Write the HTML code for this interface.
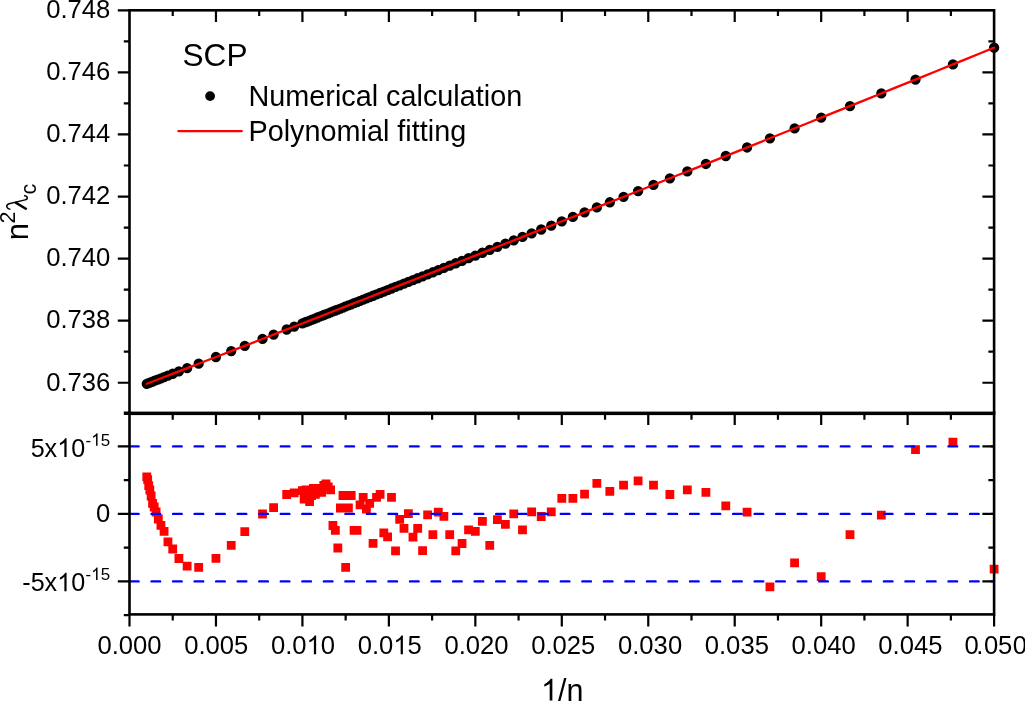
<!DOCTYPE html><html><head><meta charset="utf-8"><title>SCP</title>
<style>html,body{margin:0;padding:0;background:#fff;overflow:hidden}svg{display:block;will-change:transform}text{font-family:"Liberation Sans",sans-serif;fill:#000}</style>
</head><body>
<svg width="1025" height="701" viewBox="0 0 1025 701">
<rect width="1025" height="701" fill="#fff"/>
<path fill="#000" d="M141.64,383.78a5.15,5.15 0 1,0 10.3,0a5.15,5.15 0 1,0 -10.3,0zM142.55,383.42a5.15,5.15 0 1,0 10.3,0a5.15,5.15 0 1,0 -10.3,0zM143.56,383.03a5.15,5.15 0 1,0 10.3,0a5.15,5.15 0 1,0 -10.3,0zM144.69,382.60a5.15,5.15 0 1,0 10.3,0a5.15,5.15 0 1,0 -10.3,0zM145.97,382.11a5.15,5.15 0 1,0 10.3,0a5.15,5.15 0 1,0 -10.3,0zM147.41,381.55a5.15,5.15 0 1,0 10.3,0a5.15,5.15 0 1,0 -10.3,0zM149.05,380.91a5.15,5.15 0 1,0 10.3,0a5.15,5.15 0 1,0 -10.3,0zM150.95,380.18a5.15,5.15 0 1,0 10.3,0a5.15,5.15 0 1,0 -10.3,0zM153.17,379.32a5.15,5.15 0 1,0 10.3,0a5.15,5.15 0 1,0 -10.3,0zM155.79,378.31a5.15,5.15 0 1,0 10.3,0a5.15,5.15 0 1,0 -10.3,0zM158.93,377.09a5.15,5.15 0 1,0 10.3,0a5.15,5.15 0 1,0 -10.3,0zM162.78,375.61a5.15,5.15 0 1,0 10.3,0a5.15,5.15 0 1,0 -10.3,0zM167.58,373.75a5.15,5.15 0 1,0 10.3,0a5.15,5.15 0 1,0 -10.3,0zM173.76,371.36a5.15,5.15 0 1,0 10.3,0a5.15,5.15 0 1,0 -10.3,0zM181.99,368.17a5.15,5.15 0 1,0 10.3,0a5.15,5.15 0 1,0 -10.3,0zM193.52,363.71a5.15,5.15 0 1,0 10.3,0a5.15,5.15 0 1,0 -10.3,0zM210.81,357.00a5.15,5.15 0 1,0 10.3,0a5.15,5.15 0 1,0 -10.3,0zM226.07,351.08a5.15,5.15 0 1,0 10.3,0a5.15,5.15 0 1,0 -10.3,0zM239.63,345.81a5.15,5.15 0 1,0 10.3,0a5.15,5.15 0 1,0 -10.3,0zM257.37,338.91a5.15,5.15 0 1,0 10.3,0a5.15,5.15 0 1,0 -10.3,0zM268.45,334.60a5.15,5.15 0 1,0 10.3,0a5.15,5.15 0 1,0 -10.3,0zM281.55,329.50a5.15,5.15 0 1,0 10.3,0a5.15,5.15 0 1,0 -10.3,0zM289.04,326.58a5.15,5.15 0 1,0 10.3,0a5.15,5.15 0 1,0 -10.3,0zM297.27,323.37a5.15,5.15 0 1,0 10.3,0a5.15,5.15 0 1,0 -10.3,0zM299.02,322.69a5.15,5.15 0 1,0 10.3,0a5.15,5.15 0 1,0 -10.3,0zM300.80,321.99a5.15,5.15 0 1,0 10.3,0a5.15,5.15 0 1,0 -10.3,0zM302.62,321.28a5.15,5.15 0 1,0 10.3,0a5.15,5.15 0 1,0 -10.3,0zM304.48,320.56a5.15,5.15 0 1,0 10.3,0a5.15,5.15 0 1,0 -10.3,0zM306.37,319.82a5.15,5.15 0 1,0 10.3,0a5.15,5.15 0 1,0 -10.3,0zM308.31,319.06a5.15,5.15 0 1,0 10.3,0a5.15,5.15 0 1,0 -10.3,0zM310.29,318.29a5.15,5.15 0 1,0 10.3,0a5.15,5.15 0 1,0 -10.3,0zM312.31,317.50a5.15,5.15 0 1,0 10.3,0a5.15,5.15 0 1,0 -10.3,0zM314.37,316.69a5.15,5.15 0 1,0 10.3,0a5.15,5.15 0 1,0 -10.3,0zM316.48,315.87a5.15,5.15 0 1,0 10.3,0a5.15,5.15 0 1,0 -10.3,0zM318.64,315.03a5.15,5.15 0 1,0 10.3,0a5.15,5.15 0 1,0 -10.3,0zM320.85,314.16a5.15,5.15 0 1,0 10.3,0a5.15,5.15 0 1,0 -10.3,0zM323.11,313.28a5.15,5.15 0 1,0 10.3,0a5.15,5.15 0 1,0 -10.3,0zM325.42,312.38a5.15,5.15 0 1,0 10.3,0a5.15,5.15 0 1,0 -10.3,0zM327.79,311.45a5.15,5.15 0 1,0 10.3,0a5.15,5.15 0 1,0 -10.3,0zM330.21,310.51a5.15,5.15 0 1,0 10.3,0a5.15,5.15 0 1,0 -10.3,0zM332.69,309.54a5.15,5.15 0 1,0 10.3,0a5.15,5.15 0 1,0 -10.3,0zM335.23,308.54a5.15,5.15 0 1,0 10.3,0a5.15,5.15 0 1,0 -10.3,0zM337.83,307.53a5.15,5.15 0 1,0 10.3,0a5.15,5.15 0 1,0 -10.3,0zM340.50,306.48a5.15,5.15 0 1,0 10.3,0a5.15,5.15 0 1,0 -10.3,0zM343.24,305.41a5.15,5.15 0 1,0 10.3,0a5.15,5.15 0 1,0 -10.3,0zM346.04,304.31a5.15,5.15 0 1,0 10.3,0a5.15,5.15 0 1,0 -10.3,0zM348.92,303.19a5.15,5.15 0 1,0 10.3,0a5.15,5.15 0 1,0 -10.3,0zM351.88,302.03a5.15,5.15 0 1,0 10.3,0a5.15,5.15 0 1,0 -10.3,0zM354.91,300.84a5.15,5.15 0 1,0 10.3,0a5.15,5.15 0 1,0 -10.3,0zM358.03,299.62a5.15,5.15 0 1,0 10.3,0a5.15,5.15 0 1,0 -10.3,0zM361.23,298.37a5.15,5.15 0 1,0 10.3,0a5.15,5.15 0 1,0 -10.3,0zM364.52,297.08a5.15,5.15 0 1,0 10.3,0a5.15,5.15 0 1,0 -10.3,0zM367.90,295.76a5.15,5.15 0 1,0 10.3,0a5.15,5.15 0 1,0 -10.3,0zM371.38,294.39a5.15,5.15 0 1,0 10.3,0a5.15,5.15 0 1,0 -10.3,0zM374.96,292.99a5.15,5.15 0 1,0 10.3,0a5.15,5.15 0 1,0 -10.3,0zM378.64,291.54a5.15,5.15 0 1,0 10.3,0a5.15,5.15 0 1,0 -10.3,0zM382.44,290.06a5.15,5.15 0 1,0 10.3,0a5.15,5.15 0 1,0 -10.3,0zM386.35,288.52a5.15,5.15 0 1,0 10.3,0a5.15,5.15 0 1,0 -10.3,0zM390.38,286.94a5.15,5.15 0 1,0 10.3,0a5.15,5.15 0 1,0 -10.3,0zM394.54,285.31a5.15,5.15 0 1,0 10.3,0a5.15,5.15 0 1,0 -10.3,0zM398.83,283.63a5.15,5.15 0 1,0 10.3,0a5.15,5.15 0 1,0 -10.3,0zM403.25,281.89a5.15,5.15 0 1,0 10.3,0a5.15,5.15 0 1,0 -10.3,0zM407.83,280.09a5.15,5.15 0 1,0 10.3,0a5.15,5.15 0 1,0 -10.3,0zM412.55,278.24a5.15,5.15 0 1,0 10.3,0a5.15,5.15 0 1,0 -10.3,0zM417.43,276.32a5.15,5.15 0 1,0 10.3,0a5.15,5.15 0 1,0 -10.3,0zM422.49,274.33a5.15,5.15 0 1,0 10.3,0a5.15,5.15 0 1,0 -10.3,0zM427.72,272.27a5.15,5.15 0 1,0 10.3,0a5.15,5.15 0 1,0 -10.3,0zM433.14,270.14a5.15,5.15 0 1,0 10.3,0a5.15,5.15 0 1,0 -10.3,0zM438.75,267.93a5.15,5.15 0 1,0 10.3,0a5.15,5.15 0 1,0 -10.3,0zM444.57,265.64a5.15,5.15 0 1,0 10.3,0a5.15,5.15 0 1,0 -10.3,0zM450.61,263.26a5.15,5.15 0 1,0 10.3,0a5.15,5.15 0 1,0 -10.3,0zM456.89,260.79a5.15,5.15 0 1,0 10.3,0a5.15,5.15 0 1,0 -10.3,0zM463.41,258.22a5.15,5.15 0 1,0 10.3,0a5.15,5.15 0 1,0 -10.3,0zM470.19,255.55a5.15,5.15 0 1,0 10.3,0a5.15,5.15 0 1,0 -10.3,0zM477.25,252.76a5.15,5.15 0 1,0 10.3,0a5.15,5.15 0 1,0 -10.3,0zM484.60,249.86a5.15,5.15 0 1,0 10.3,0a5.15,5.15 0 1,0 -10.3,0zM492.26,246.83a5.15,5.15 0 1,0 10.3,0a5.15,5.15 0 1,0 -10.3,0zM500.26,243.67a5.15,5.15 0 1,0 10.3,0a5.15,5.15 0 1,0 -10.3,0zM508.62,240.37a5.15,5.15 0 1,0 10.3,0a5.15,5.15 0 1,0 -10.3,0zM517.35,236.92a5.15,5.15 0 1,0 10.3,0a5.15,5.15 0 1,0 -10.3,0zM526.49,233.30a5.15,5.15 0 1,0 10.3,0a5.15,5.15 0 1,0 -10.3,0zM536.06,229.51a5.15,5.15 0 1,0 10.3,0a5.15,5.15 0 1,0 -10.3,0zM546.11,225.54a5.15,5.15 0 1,0 10.3,0a5.15,5.15 0 1,0 -10.3,0zM556.65,221.36a5.15,5.15 0 1,0 10.3,0a5.15,5.15 0 1,0 -10.3,0zM567.73,216.96a5.15,5.15 0 1,0 10.3,0a5.15,5.15 0 1,0 -10.3,0zM579.40,212.33a5.15,5.15 0 1,0 10.3,0a5.15,5.15 0 1,0 -10.3,0zM591.70,207.44a5.15,5.15 0 1,0 10.3,0a5.15,5.15 0 1,0 -10.3,0zM604.68,202.28a5.15,5.15 0 1,0 10.3,0a5.15,5.15 0 1,0 -10.3,0zM618.41,196.82a5.15,5.15 0 1,0 10.3,0a5.15,5.15 0 1,0 -10.3,0zM632.94,191.04a5.15,5.15 0 1,0 10.3,0a5.15,5.15 0 1,0 -10.3,0zM648.35,184.89a5.15,5.15 0 1,0 10.3,0a5.15,5.15 0 1,0 -10.3,0zM664.73,178.36a5.15,5.15 0 1,0 10.3,0a5.15,5.15 0 1,0 -10.3,0zM682.16,171.40a5.15,5.15 0 1,0 10.3,0a5.15,5.15 0 1,0 -10.3,0zM700.75,163.96a5.15,5.15 0 1,0 10.3,0a5.15,5.15 0 1,0 -10.3,0zM720.63,156.01a5.15,5.15 0 1,0 10.3,0a5.15,5.15 0 1,0 -10.3,0zM741.92,147.47a5.15,5.15 0 1,0 10.3,0a5.15,5.15 0 1,0 -10.3,0zM764.79,138.29a5.15,5.15 0 1,0 10.3,0a5.15,5.15 0 1,0 -10.3,0zM789.43,128.39a5.15,5.15 0 1,0 10.3,0a5.15,5.15 0 1,0 -10.3,0zM816.03,117.68a5.15,5.15 0 1,0 10.3,0a5.15,5.15 0 1,0 -10.3,0zM844.85,106.06a5.15,5.15 0 1,0 10.3,0a5.15,5.15 0 1,0 -10.3,0zM876.18,93.40a5.15,5.15 0 1,0 10.3,0a5.15,5.15 0 1,0 -10.3,0zM910.35,79.56a5.15,5.15 0 1,0 10.3,0a5.15,5.15 0 1,0 -10.3,0zM947.78,64.38a5.15,5.15 0 1,0 10.3,0a5.15,5.15 0 1,0 -10.3,0zM988.95,47.63a5.15,5.15 0 1,0 10.3,0a5.15,5.15 0 1,0 -10.3,0z"/>
<path fill="#f00" d="M142.39,472.40h8.8v8.8h-8.8zM143.30,475.30h8.8v8.8h-8.8zM144.31,481.20h8.8v8.8h-8.8zM145.44,485.60h8.8v8.8h-8.8zM146.72,491.60h8.8v8.8h-8.8zM148.16,499.00h8.8v8.8h-8.8zM149.80,502.60h8.8v8.8h-8.8zM151.70,507.60h8.8v8.8h-8.8zM153.92,514.60h8.8v8.8h-8.8zM156.54,520.90h8.8v8.8h-8.8zM159.68,526.90h8.8v8.8h-8.8zM163.53,537.40h8.8v8.8h-8.8zM168.33,544.60h8.8v8.8h-8.8zM174.51,554.10h8.8v8.8h-8.8zM182.74,561.80h8.8v8.8h-8.8zM194.27,563.00h8.8v8.8h-8.8zM211.56,554.00h8.8v8.8h-8.8zM226.82,540.90h8.8v8.8h-8.8zM240.38,527.20h8.8v8.8h-8.8zM258.12,509.60h8.8v8.8h-8.8zM269.20,503.20h8.8v8.8h-8.8zM282.30,490.10h8.8v8.8h-8.8zM289.79,488.40h8.8v8.8h-8.8zM298.02,486.20h8.8v8.8h-8.8zM299.77,494.60h8.8v8.8h-8.8zM301.55,485.60h8.8v8.8h-8.8zM303.37,491.60h8.8v8.8h-8.8zM305.23,497.30h8.8v8.8h-8.8zM307.12,491.20h8.8v8.8h-8.8zM309.06,484.10h8.8v8.8h-8.8zM311.04,490.00h8.8v8.8h-8.8zM313.06,484.10h8.8v8.8h-8.8zM315.12,484.60h8.8v8.8h-8.8zM317.23,488.00h8.8v8.8h-8.8zM319.39,481.10h8.8v8.8h-8.8zM321.60,479.40h8.8v8.8h-8.8zM323.86,482.60h8.8v8.8h-8.8zM326.17,485.40h8.8v8.8h-8.8zM328.54,521.10h8.8v8.8h-8.8zM330.96,525.90h8.8v8.8h-8.8zM333.44,543.60h8.8v8.8h-8.8zM335.98,503.60h8.8v8.8h-8.8zM338.58,491.10h8.8v8.8h-8.8zM341.25,563.00h8.8v8.8h-8.8zM343.99,503.60h8.8v8.8h-8.8zM346.79,491.10h8.8v8.8h-8.8zM349.67,525.90h8.8v8.8h-8.8zM352.63,525.90h8.8v8.8h-8.8zM355.66,500.50h8.8v8.8h-8.8zM358.78,493.00h8.8v8.8h-8.8zM361.98,504.60h8.8v8.8h-8.8zM365.27,498.90h8.8v8.8h-8.8zM368.65,539.00h8.8v8.8h-8.8zM372.13,493.00h8.8v8.8h-8.8zM375.71,490.00h8.8v8.8h-8.8zM379.39,528.50h8.8v8.8h-8.8zM383.19,532.40h8.8v8.8h-8.8zM387.10,493.00h8.8v8.8h-8.8zM391.13,546.50h8.8v8.8h-8.8zM395.29,515.00h8.8v8.8h-8.8zM399.58,524.00h8.8v8.8h-8.8zM404.00,509.20h8.8v8.8h-8.8zM408.58,532.80h8.8v8.8h-8.8zM413.30,524.00h8.8v8.8h-8.8zM418.18,546.20h8.8v8.8h-8.8zM423.24,510.50h8.8v8.8h-8.8zM428.47,530.20h8.8v8.8h-8.8zM433.89,507.70h8.8v8.8h-8.8zM439.50,512.00h8.8v8.8h-8.8zM445.32,530.20h8.8v8.8h-8.8zM451.36,546.50h8.8v8.8h-8.8zM457.64,539.10h8.8v8.8h-8.8zM464.16,525.50h8.8v8.8h-8.8zM470.94,526.90h8.8v8.8h-8.8zM478.00,517.00h8.8v8.8h-8.8zM485.35,540.90h8.8v8.8h-8.8zM493.01,515.20h8.8v8.8h-8.8zM501.01,519.90h8.8v8.8h-8.8zM509.37,509.40h8.8v8.8h-8.8zM518.10,525.50h8.8v8.8h-8.8zM527.24,507.50h8.8v8.8h-8.8zM536.81,512.10h8.8v8.8h-8.8zM546.86,507.50h8.8v8.8h-8.8zM557.40,493.90h8.8v8.8h-8.8zM568.48,493.90h8.8v8.8h-8.8zM580.15,489.80h8.8v8.8h-8.8zM592.45,479.00h8.8v8.8h-8.8zM605.43,487.00h8.8v8.8h-8.8zM619.16,480.80h8.8v8.8h-8.8zM633.69,476.40h8.8v8.8h-8.8zM649.10,480.80h8.8v8.8h-8.8zM665.48,490.10h8.8v8.8h-8.8zM682.91,485.40h8.8v8.8h-8.8zM701.50,488.00h8.8v8.8h-8.8zM721.38,501.40h8.8v8.8h-8.8zM742.67,507.80h8.8v8.8h-8.8zM765.54,582.40h8.8v8.8h-8.8zM790.18,558.40h8.8v8.8h-8.8zM816.78,572.20h8.8v8.8h-8.8zM845.60,530.30h8.8v8.8h-8.8zM876.93,510.70h8.8v8.8h-8.8zM911.10,445.20h8.8v8.8h-8.8zM948.53,437.80h8.8v8.8h-8.8zM989.70,564.80h8.8v8.8h-8.8z"/>
<g stroke="#00f" stroke-width="2.4" stroke-dasharray="8.6 12.94" stroke-linecap="round" fill="none">
<line x1="130.0" y1="446.40" x2="993" y2="446.40"/>
<line x1="130.0" y1="513.90" x2="993" y2="513.90"/>
<line x1="130.0" y1="581.40" x2="993" y2="581.40"/>
</g>
<g stroke="#000" stroke-width="2.6" fill="none" stroke-linecap="butt">
<rect x="129.5" y="10.3" width="864.60" height="403.50"/>
<rect x="129.5" y="412.9" width="864.60" height="201.50"/>
<path stroke-width="2.2" d="M129.50,614.4v12.0 M172.73,10.3v5.7 M172.73,412.9v6.9 M172.73,614.4v6.0 M215.96,10.3v11.7 M215.96,412.9v12.1 M215.96,614.4v12.0 M259.19,10.3v5.7 M259.19,412.9v6.9 M259.19,614.4v6.0 M302.42,10.3v11.7 M302.42,412.9v12.1 M302.42,614.4v12.0 M345.65,10.3v5.7 M345.65,412.9v6.9 M345.65,614.4v6.0 M388.88,10.3v11.7 M388.88,412.9v12.1 M388.88,614.4v12.0 M432.11,10.3v5.7 M432.11,412.9v6.9 M432.11,614.4v6.0 M475.34,10.3v11.7 M475.34,412.9v12.1 M475.34,614.4v12.0 M518.57,10.3v5.7 M518.57,412.9v6.9 M518.57,614.4v6.0 M561.80,10.3v11.7 M561.80,412.9v12.1 M561.80,614.4v12.0 M605.03,10.3v5.7 M605.03,412.9v6.9 M605.03,614.4v6.0 M648.26,10.3v11.7 M648.26,412.9v12.1 M648.26,614.4v12.0 M691.49,10.3v5.7 M691.49,412.9v6.9 M691.49,614.4v6.0 M734.72,10.3v11.7 M734.72,412.9v12.1 M734.72,614.4v12.0 M777.95,10.3v5.7 M777.95,412.9v6.9 M777.95,614.4v6.0 M821.18,10.3v11.7 M821.18,412.9v12.1 M821.18,614.4v12.0 M864.41,10.3v5.7 M864.41,412.9v6.9 M864.41,614.4v6.0 M907.64,10.3v11.7 M907.64,412.9v12.1 M907.64,614.4v12.0 M950.87,10.3v5.7 M950.87,412.9v6.9 M950.87,614.4v6.0 M994.10,614.4v12.0 M129.5,10.30h-11.7 M129.5,41.34h-5.7 M994.1,41.34h-5.7 M129.5,72.38h-11.7 M994.1,72.38h-11.7 M129.5,103.42h-5.7 M994.1,103.42h-5.7 M129.5,134.45h-11.7 M994.1,134.45h-11.7 M129.5,165.49h-5.7 M994.1,165.49h-5.7 M129.5,196.53h-11.7 M994.1,196.53h-11.7 M129.5,227.57h-5.7 M994.1,227.57h-5.7 M129.5,258.61h-11.7 M994.1,258.61h-11.7 M129.5,289.65h-5.7 M994.1,289.65h-5.7 M129.5,320.68h-11.7 M994.1,320.68h-11.7 M129.5,351.72h-5.7 M994.1,351.72h-5.7 M129.5,382.76h-11.7 M994.1,382.76h-11.7 M129.5,413.80h-5.7 M129.5,615.15h-5.7 M129.5,581.40h-11.7 M994.1,581.40h-11.7 M129.5,547.65h-5.7 M994.1,547.65h-5.7 M129.5,513.90h-11.7 M994.1,513.90h-11.7 M129.5,480.15h-5.7 M994.1,480.15h-5.7 M129.5,446.40h-11.7 M994.1,446.40h-11.7 M129.5,412.65h-5.7"/>
</g>
<polyline points="146.79,383.78 161.15,378.23 175.51,372.67 189.88,367.11 204.24,361.55 218.60,355.98 232.96,350.40 247.32,344.82 261.68,339.24 276.04,333.65 290.40,328.05 304.76,322.45 319.13,316.85 333.49,311.24 347.85,305.62 362.21,300.00 376.57,294.38 390.93,288.74 405.29,283.11 419.65,277.47 434.02,271.82 448.38,266.17 462.74,260.51 477.10,254.85 491.46,249.19 505.82,243.51 520.18,237.84 534.54,232.15 548.90,226.47 563.27,220.78 577.63,215.08 591.99,209.38 606.35,203.67 620.71,197.96 635.07,192.24 649.43,186.51 663.79,180.79 678.15,175.05 692.52,169.32 706.88,163.57 721.24,157.82 735.60,152.07 749.96,146.31 764.32,140.55 778.68,134.78 793.04,129.01 807.41,123.23 821.77,117.44 836.13,111.65 850.49,105.86 864.85,100.06 879.21,94.25 893.57,88.44 907.93,82.63 922.29,76.81 936.66,70.98 951.02,65.15 965.38,59.32 979.74,53.48 994.10,47.63" fill="none" stroke="#f00" stroke-width="2.3" stroke-linejoin="round" stroke-linecap="round"/>
<g transform="translate(97.42,654.30) scale(0.975,1.0)"><text x="0" y="0" font-size="26.3">0.000</text></g>
<g transform="translate(184.18,654.30) scale(0.975,1.0)"><text x="0" y="0" font-size="26.3">0.005</text></g>
<g transform="translate(270.94,654.30) scale(0.975,1.0)"><text x="0" y="0" font-size="26.3">0.0 0</text><path transform="translate(36.56,0) scale(0.01284,-0.01284)" d="M763,0L583,0L583,1147Q518,1085 412.5,1023Q307,961 223,930L223,1104Q374,1175 487,1276Q600,1377 647,1472L763,1472Z"/></g>
<g transform="translate(357.70,654.30) scale(0.975,1.0)"><text x="0" y="0" font-size="26.3">0.0 5</text><path transform="translate(36.56,0) scale(0.01284,-0.01284)" d="M763,0L583,0L583,1147Q518,1085 412.5,1023Q307,961 223,930L223,1104Q374,1175 487,1276Q600,1377 647,1472L763,1472Z"/></g>
<g transform="translate(444.46,654.30) scale(0.975,1.0)"><text x="0" y="0" font-size="26.3">0.020</text></g>
<g transform="translate(531.22,654.30) scale(0.975,1.0)"><text x="0" y="0" font-size="26.3">0.025</text></g>
<g transform="translate(617.98,654.30) scale(0.975,1.0)"><text x="0" y="0" font-size="26.3">0.030</text></g>
<g transform="translate(704.74,654.30) scale(0.975,1.0)"><text x="0" y="0" font-size="26.3">0.035</text></g>
<g transform="translate(791.50,654.30) scale(0.975,1.0)"><text x="0" y="0" font-size="26.3">0.040</text></g>
<g transform="translate(878.26,654.30) scale(0.975,1.0)"><text x="0" y="0" font-size="26.3">0.045</text></g>
<g transform="translate(0,654.3) scale(0.975,1)"><text x="989.33 1001.33 1009.23 1023.59 1038.67" y="0" font-size="26.3">0.050</text></g>
<g transform="translate(46.13,18.10) scale(0.975,1.0)"><text x="0" y="0" font-size="26.3">0.748</text></g>
<g transform="translate(46.13,80.18) scale(0.975,1.0)"><text x="0" y="0" font-size="26.3">0.746</text></g>
<g transform="translate(46.13,142.25) scale(0.975,1.0)"><text x="0" y="0" font-size="26.3">0.744</text></g>
<g transform="translate(46.13,204.33) scale(0.975,1.0)"><text x="0" y="0" font-size="26.3">0.742</text></g>
<g transform="translate(46.13,266.41) scale(0.975,1.0)"><text x="0" y="0" font-size="26.3">0.740</text></g>
<g transform="translate(46.13,328.48) scale(0.975,1.0)"><text x="0" y="0" font-size="26.3">0.738</text></g>
<g transform="translate(46.13,390.56) scale(0.975,1.0)"><text x="0" y="0" font-size="26.3">0.736</text></g>
<g transform="translate(96.04,522.00) scale(0.975,1.0)"><text x="0" y="0" font-size="26.3">0</text></g>
<g transform="translate(85.58,445.70) scale(0.975,1.0)"><text x="0" y="0" font-size="17.4">- 5</text><path transform="translate(5.79,0) scale(0.00850,-0.00850)" d="M763,0L583,0L583,1147Q518,1085 412.5,1023Q307,961 223,930L223,1104Q374,1175 487,1276Q600,1377 647,1472L763,1472Z"/></g>
<g transform="translate(30.63,456.90) scale(0.975,1.0)"><text x="0" y="0" font-size="25.8">5x 0</text><path transform="translate(27.25,0) scale(0.01260,-0.01260)" d="M763,0L583,0L583,1147Q518,1085 412.5,1023Q307,961 223,930L223,1104Q374,1175 487,1276Q600,1377 647,1472L763,1472Z"/></g>
<g transform="translate(85.58,580.10) scale(0.975,1.0)"><text x="0" y="0" font-size="17.4">- 5</text><path transform="translate(5.79,0) scale(0.00850,-0.00850)" d="M763,0L583,0L583,1147Q518,1085 412.5,1023Q307,961 223,930L223,1104Q374,1175 487,1276Q600,1377 647,1472L763,1472Z"/></g>
<g transform="translate(22.26,591.30) scale(0.975,1.0)"><text x="0" y="0" font-size="25.8">-5x 0</text><path transform="translate(35.84,0) scale(0.01260,-0.01260)" d="M763,0L583,0L583,1147Q518,1085 412.5,1023Q307,961 223,930L223,1104Q374,1175 487,1276Q600,1377 647,1472L763,1472Z"/></g>
<text x="182.5" y="65.8" font-size="31.6">SCP</text>
<circle cx="210.1" cy="96.1" r="4.9" fill="#000"/>
<line x1="178.4" y1="131.1" x2="241.8" y2="131.1" stroke="#f00" stroke-width="2.3" stroke-linecap="round"/>
<text x="248.5" y="105.7" font-size="28.8">Numerical calculation</text>
<text x="248.5" y="140.6" font-size="28.8">Polynomial fitting</text>
<g transform="translate(541.00,700.60)"><text x="0" y="0" font-size="30.5"> /n</text><path transform="translate(0.00,0) scale(0.01489,-0.01489)" d="M763,0L583,0L583,1147Q518,1085 412.5,1023Q307,961 223,930L223,1104Q374,1175 487,1276Q600,1377 647,1472L763,1472Z"/></g>
<g transform="translate(27.5,212) rotate(-90)"><text x="-28.2" y="0" font-size="31">n</text><text x="-11.6" y="-12.3" font-size="21.5">2</text><path d="M2.6,-17.0 C3.0,-20.6 6.6,-22.6 8.2,-18.4 L12.1,-2.4 C12.7,0.4 15.8,0.8 16.5,-3.4" fill="none" stroke="#000" stroke-width="1.45"/><path d="M2.8,-0.8 L9.6,-12.2" fill="none" stroke="#000" stroke-width="2.4"/><text x="17.6" y="8.7" font-size="21.5">c</text></g>
</svg></body></html>
